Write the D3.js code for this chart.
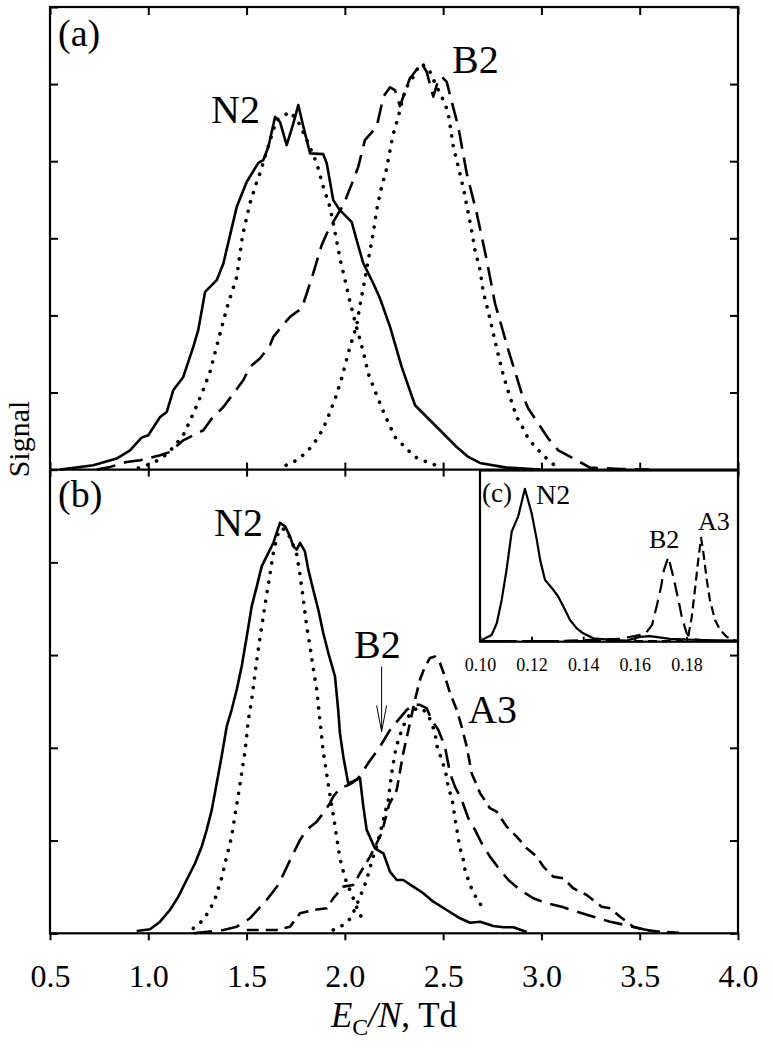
<!DOCTYPE html>
<html><head><meta charset="utf-8">
<script src="https://cdn.jsdelivr.net/npm/d3@7"></script>
<style>
body{margin:0;background:#fff;}
svg{display:block;}
text{font-family:"Liberation Serif","Times New Roman",serif;fill:#000;}
</style></head>
<body>
<div id="chart"></div>
<script>
// ---------- DATA ----------
const xTicks = [0.5,1.0,1.5,2.0,2.5,3.0,3.5,4.0];
const xTickLabels = ["0.5","1.0","1.5","2.0","2.5","3.0","3.5","4.0"];
const yTicksA = [0,1,2,3,4,5,6];
const yTicksB = [0,1,2,3,4,5];
const insetTicks = [0.10,0.12,0.14,0.16,0.18];
const insetTickLabels = ["0.10","0.12","0.14","0.16","0.18"];

// panel (a)
const aN2 = [[0.551,0],[0.72,0.056],[0.839,0.143],[0.907,0.25],[0.966,0.415],[1.0,0.445],[1.06,0.683],[1.094,0.748],[1.127,1.029],[1.178,1.202],[1.229,1.591],[1.254,1.808],[1.289,2.305],[1.348,2.457],[1.382,2.674],[1.416,3.041],[1.45,3.408],[1.501,3.733],[1.56,3.979],[1.585,4.014],[1.611,4.187],[1.645,4.576],[1.67,4.511],[1.704,4.209],[1.738,4.491],[1.763,4.728],[1.789,4.447],[1.823,4.101],[1.89,4.092],[1.908,3.971],[1.941,3.495],[1.975,3.365],[2.035,3.209],[2.06,2.976],[2.094,2.674],[2.145,2.414],[2.179,2.219],[2.23,1.851],[2.289,1.332],[2.357,0.835],[2.484,0.51],[2.569,0.293],[2.628,0.164],[2.687,0.086],[2.823,0.026],[2.993,0]];
const aN2fit = [[0.95,0.02],[0.992,0.056],[1.034,0.099],[1.094,0.199],[1.136,0.315],[1.178,0.445],[1.229,0.727],[1.272,0.986],[1.314,1.267],[1.356,1.678],[1.399,2.09],[1.45,2.5],[1.48,3.041],[1.517,3.452],[1.552,3.733],[1.568,3.842],[1.636,4.404],[1.653,4.533],[1.721,4.641],[1.763,4.511],[1.814,4.231],[1.857,3.971],[1.89,3.668],[1.924,3.408],[1.95,3.08],[1.975,2.738],[2.001,2.457],[2.026,2.175],[2.052,1.916],[2.094,1.526],[2.119,1.246],[2.162,0.964],[2.204,0.705],[2.255,0.423],[2.306,0.293],[2.357,0.164],[2.416,0.099],[2.47,0.05]];
const aB2 = [[0.738,0],[0.805,0.034],[0.89,0.099],[0.958,0.121],[1.06,0.186],[1.11,0.228],[1.178,0.38],[1.229,0.445],[1.28,0.51],[1.323,0.662],[1.382,0.812],[1.433,0.986],[1.483,1.159],[1.517,1.332],[1.568,1.441],[1.619,1.613],[1.636,1.721],[1.67,1.83],[1.721,1.981],[1.78,2.09],[1.806,2.284],[1.839,2.544],[1.882,2.911],[1.908,3.063],[1.941,3.213],[1.992,3.43],[2.043,3.755],[2.068,3.927],[2.102,4.274],[2.162,4.447],[2.196,4.836],[2.23,4.958],[2.255,4.923],[2.28,4.715],[2.297,4.836],[2.331,5.075],[2.357,5.16],[2.391,5.269],[2.416,5.16],[2.45,4.836],[2.475,5.053],[2.493,5.095],[2.518,5.03],[2.535,4.858],[2.577,4.447],[2.62,3.842],[2.671,3.323],[2.722,2.716],[2.764,2.154],[2.832,1.548],[2.9,0.986],[2.933,0.792],[3.035,0.402],[3.086,0.25],[3.179,0.121],[3.247,0.026],[3.4,0.008],[3.55,0]];
const aB2fit = [[1.701,0.056],[1.755,0.121],[1.806,0.228],[1.848,0.358],[1.882,0.497],[1.908,0.64],[1.95,0.912],[1.984,1.189],[2.026,1.591],[2.06,1.873],[2.077,2.132],[2.097,2.405],[2.116,2.674],[2.145,3.084],[2.162,3.365],[2.179,3.586],[2.213,3.91],[2.23,4.144],[2.246,4.352],[2.272,4.576],[2.297,4.836],[2.315,4.966],[2.34,5.053],[2.365,5.182],[2.391,5.269],[2.433,5.16],[2.459,5.01],[2.484,4.88],[2.509,4.75],[2.526,4.62],[2.543,4.339],[2.552,4.187],[2.577,3.927],[2.603,3.647],[2.623,3.387],[2.645,3.106],[2.662,2.846],[2.688,2.587],[2.704,2.305],[2.73,2.045],[2.755,1.765],[2.781,1.483],[2.806,1.224],[2.84,0.942],[2.874,0.683],[2.908,0.532],[2.933,0.402],[2.976,0.273],[3.027,0.143],[3.074,0.04]];

// panel (b)
const bN2 = [[0.941,0.025],[1.009,0.043],[1.06,0.125],[1.11,0.251],[1.153,0.395],[1.195,0.575],[1.238,0.755],[1.272,0.935],[1.297,1.115],[1.323,1.331],[1.348,1.619],[1.373,1.906],[1.399,2.23],[1.424,2.41],[1.45,2.626],[1.475,2.877],[1.501,3.201],[1.526,3.525],[1.552,3.741],[1.577,3.956],[1.602,4.064],[1.636,4.209],[1.67,4.425],[1.696,4.388],[1.721,4.28],[1.738,4.172],[1.755,4.137],[1.772,4.209],[1.797,4.118],[1.814,3.921],[1.839,3.705],[1.865,3.489],[1.89,3.238],[1.916,3.022],[1.95,2.769],[1.958,2.59],[1.966,2.41],[1.975,2.158],[1.992,1.906],[2.017,1.619],[2.06,1.654],[2.077,1.673],[2.094,1.366],[2.111,1.115],[2.153,0.917],[2.196,0.863],[2.23,0.662],[2.264,0.575],[2.297,0.575],[2.348,0.503],[2.399,0.432],[2.45,0.341],[2.518,0.251],[2.586,0.162],[2.637,0.114],[2.688,0.125],[2.755,0.079],[2.806,0.065],[2.857,0.065],[2.925,0.014]];
const bN2fit = [[1.229,0.054],[1.28,0.144],[1.314,0.259],[1.339,0.367],[1.373,0.594],[1.399,0.827],[1.424,1.043],[1.441,1.277],[1.458,1.493],[1.475,1.727],[1.492,1.96],[1.509,2.302],[1.526,2.518],[1.552,2.949],[1.568,3.184],[1.585,3.417],[1.602,3.651],[1.619,3.867],[1.636,4.101],[1.661,4.317],[1.679,4.371],[1.704,4.334],[1.73,4.226],[1.755,4.083],[1.772,3.867],[1.789,3.597],[1.806,3.309],[1.823,3.093],[1.839,2.86],[1.857,2.626],[1.874,2.284],[1.89,1.96],[1.907,1.727],[1.924,1.493],[1.941,1.277],[1.958,1.043],[1.975,0.809],[2.001,0.594],[2.043,0.378],[2.068,0.233],[2.094,0.144]];
const bB2 = [[1.229,0],[1.382,0.036],[1.45,0.071],[1.517,0.162],[1.602,0.359],[1.661,0.521],[1.73,0.827],[1.772,1.007],[1.806,1.115],[1.857,1.204],[1.89,1.295],[1.924,1.403],[1.941,1.474],[1.975,1.565],[2.009,1.59],[2.035,1.619],[2.068,1.673],[2.119,1.835],[2.179,2.014],[2.23,2.194],[2.272,2.302],[2.315,2.41],[2.348,2.464],[2.382,2.464],[2.416,2.428],[2.441,2.302],[2.475,2.194],[2.509,2.014],[2.535,1.727],[2.56,1.582],[2.594,1.439],[2.628,1.241],[2.662,1.115],[2.696,0.971],[2.738,0.827],[2.789,0.683],[2.832,0.575],[2.891,0.467],[2.959,0.378],[3.027,0.324],[3.103,0.287],[3.179,0.233],[3.264,0.179],[3.349,0.125],[3.425,0.09],[3.518,0.043],[3.586,0.017]];
const bB2fit = [[1.941,0.036],[1.992,0.09],[2.031,0.165],[2.06,0.306],[2.085,0.435],[2.111,0.575],[2.136,0.77],[2.162,0.942],[2.179,1.079],[2.196,1.223],[2.221,1.439],[2.238,1.727],[2.255,1.943],[2.272,2.086],[2.297,2.23],[2.315,2.32],[2.34,2.374],[2.365,2.428],[2.399,2.41],[2.424,2.356],[2.441,2.266],[2.459,2.158],[2.467,2.032],[2.484,1.924],[2.501,1.816],[2.518,1.69],[2.526,1.565],[2.543,1.474],[2.552,1.366],[2.56,1.241],[2.569,1.133],[2.577,1.025],[2.586,0.917],[2.603,0.791],[2.611,0.683],[2.628,0.575],[2.654,0.432],[2.688,0.324],[2.704,0.233]];
const bA3 = [[1.501,0.036],[1.653,0.036],[1.721,0.071],[1.772,0.216],[1.839,0.251],[1.908,0.27],[1.941,0.378],[1.992,0.503],[2.043,0.521],[2.077,0.648],[2.128,0.827],[2.162,0.971],[2.187,1.079],[2.225,1.387],[2.264,1.547],[2.297,1.943],[2.331,2.266],[2.357,2.518],[2.382,2.734],[2.408,2.877],[2.433,2.968],[2.459,2.985],[2.484,2.914],[2.509,2.769],[2.535,2.59],[2.569,2.41],[2.594,2.23],[2.62,2.014],[2.645,1.727],[2.688,1.511],[2.738,1.349],[2.772,1.312],[2.823,1.15],[2.874,1.043],[2.925,0.917],[2.976,0.827],[3.01,0.719],[3.06,0.611],[3.111,0.594],[3.162,0.486],[3.23,0.413],[3.306,0.287],[3.349,0.27],[3.4,0.179],[3.467,0.071],[3.535,0.036],[3.603,0.017],[3.705,0.006]];
const arrowB2 = {x:2.187, from:2.877, to:2.176};

// inset (c)
const cN2 = [[0.1007,0.01],[0.1045,0.039],[0.1065,0.108],[0.1084,0.244],[0.1103,0.42],[0.1123,0.644],[0.1148,0.732],[0.1174,0.893],[0.12,0.752],[0.122,0.596],[0.1233,0.478],[0.1252,0.361],[0.1284,0.303],[0.1303,0.264],[0.1323,0.205],[0.1349,0.127],[0.1375,0.078],[0.14,0.049],[0.1439,0.02],[0.1517,0.01],[0.1569,0.007],[0.162,0.028],[0.1659,0.033],[0.1736,0.016],[0.1853,0.01],[0.2,0.007]];
const cB2 = [[0.1,0.004],[0.131,0.004],[0.154,0.016],[0.164,0.045],[0.1667,0.098],[0.1686,0.215],[0.1702,0.322],[0.1713,0.42],[0.173,0.494],[0.1749,0.381],[0.1769,0.244],[0.1782,0.146],[0.1801,0.049],[0.1822,0.016],[0.1891,0.004],[0.2,0.004]];
const cA3 = [[0.1,0.003],[0.1775,0.004],[0.1807,0.029],[0.1821,0.146],[0.1833,0.303],[0.1846,0.479],[0.1857,0.606],[0.1866,0.518],[0.1879,0.361],[0.1891,0.244],[0.1911,0.127],[0.193,0.069],[0.1956,0.029],[0.1982,0.01],[0.2,0.004]];

// ---------- CHART ----------
const W = 773, H = 1050;
const svg = d3.select("#chart").append("svg").attr("width", W).attr("height", H);

const x = d3.scaleLinear().domain([0.5, 4.0]).range([50, 738]);
const ya = d3.scaleLinear().domain([0, 6]).range([469.6, 7]);
const yb = d3.scaleLinear().domain([0, 5]).range([933.3, 469.6]);
const xi = d3.scaleLinear().domain([0.10, 0.20]).range([480, 738]);
const yi = d3.scaleLinear().domain([0, 1]).range([641.7, 470.5]);

const styles = {
  solid: {w: 2.6, dash: null, cap: "butt"},
  dot:   {w: 3.6, dash: "0.1,9.6", cap: "round"},
  long:  {w: 2.6, dash: "19,9", cap: "butt"},
  short: {w: 2.6, dash: "12,7", cap: "butt"}
};

function drawLine(g, data, xs, ys, st, wOverride, dashOverride) {
  const line = d3.line().x(d => xs(d[0])).y(d => ys(d[1])).curve(d3.curveLinear);
  g.append("path").datum(data).attr("d", line)
    .attr("fill", "none").attr("stroke", "#000")
    .attr("stroke-width", wOverride || st.w)
    .attr("stroke-linecap", st.cap).attr("stroke-linejoin", "round")
    .attr("stroke-dasharray", dashOverride || st.dash);
}

const gA = svg.append("g");
drawLine(gA, aN2, x, ya, styles.solid);
drawLine(gA, aN2fit, x, ya, styles.dot);
drawLine(gA, aB2, x, ya, styles.long);
drawLine(gA, aB2fit, x, ya, styles.dot);

const gB = svg.append("g");
drawLine(gB, bN2, x, yb, styles.solid);
drawLine(gB, bN2fit, x, yb, styles.dot);
drawLine(gB, bB2, x, yb, styles.long);
drawLine(gB, bB2fit, x, yb, styles.dot);
drawLine(gB, bA3, x, yb, styles.short);

// arrow
const ax = x(arrowB2.x), ay0 = yb(arrowB2.from), ay1 = yb(arrowB2.to);
gB.append("line").attr("x1", ax).attr("x2", ax).attr("y1", ay0).attr("y2", ay1)
  .attr("stroke", "#000").attr("stroke-width", 1);
gB.append("path").attr("d", `M${ax-5},${ay1-26} L${ax},${ay1} L${ax+5},${ay1-26}`)
  .attr("fill", "none").attr("stroke", "#000").attr("stroke-width", 1);

// axes helpers
function styleAxis(g) {
  g.select(".domain").remove();
  g.selectAll(".tick line").attr("stroke", "#000").attr("stroke-width", 2);
}
const noLab = () => "";

// top of (a): ticks inward
svg.append("g").attr("transform", `translate(0,${ya(6)})`)
  .call(d3.axisBottom(x).tickValues(xTicks).tickSize(8).tickFormat(noLab)).call(styleAxis);
// middle: ticks both sides
svg.append("g").attr("transform", `translate(0,${ya(0)})`)
  .call(d3.axisTop(x).tickValues(xTicks).tickSize(7).tickFormat(noLab)).call(styleAxis);
svg.append("g").attr("transform", `translate(0,${ya(0)})`)
  .call(d3.axisBottom(x).tickValues(xTicks).tickSize(7).tickFormat(noLab)).call(styleAxis);
// y ticks (a)
svg.append("g").attr("transform", `translate(${x(0.5)},0)`)
  .call(d3.axisRight(ya).tickValues(yTicksA).tickSize(8).tickFormat(noLab)).call(styleAxis);
svg.append("g").attr("transform", `translate(${x(4.0)},0)`)
  .call(d3.axisLeft(ya).tickValues(yTicksA).tickSize(8).tickFormat(noLab)).call(styleAxis);
// y ticks (b)
svg.append("g").attr("transform", `translate(${x(0.5)},0)`)
  .call(d3.axisRight(yb).tickValues(yTicksB).tickSize(8).tickFormat(noLab)).call(styleAxis);
svg.append("g").attr("transform", `translate(${x(4.0)},0)`)
  .call(d3.axisLeft(yb).tickValues(yTicksB).tickSize(8).tickFormat(noLab)).call(styleAxis);
// bottom axis with labels
const bottom = svg.append("g").attr("transform", `translate(0,${yb(0)})`)
  .call(d3.axisBottom(x).tickValues(xTicks).tickSize(7).tickPadding(24)
    .tickFormat((d, i) => xTickLabels[i])).call(styleAxis);
bottom.selectAll(".tick text").attr("font-family", "Liberation Serif").attr("font-size", 32).attr("fill", "#000");

// frames
svg.append("rect").attr("x", x(0.5)).attr("y", ya(6)).attr("width", x(4) - x(0.5)).attr("height", yb(0) - ya(6))
  .attr("fill", "none").attr("stroke", "#000").attr("stroke-width", 2.2);
svg.append("line").attr("x1", x(0.5)).attr("x2", x(4)).attr("y1", ya(0)).attr("y2", ya(0))
  .attr("stroke", "#000").attr("stroke-width", 2.2);

// ---------- INSET ----------
const gC = svg.append("g");
gC.append("rect").attr("x", xi(0.10)).attr("y", yi(1)).attr("width", xi(0.20) - xi(0.10)).attr("height", yi(0) - yi(1))
  .attr("fill", "#fff").attr("stroke", "none");
drawLine(gC, cN2, xi, yi, styles.solid, 2.2);
drawLine(gC, cB2, xi, yi, styles.long, 2.2, "14,7");
drawLine(gC, cA3, xi, yi, styles.short, 2.2, "9,5");
gC.append("g").attr("transform", `translate(0,${yi(0)})`)
  .call(d3.axisTop(xi).tickValues(insetTicks).tickSize(5).tickFormat(noLab)).call(styleAxis);
const insetLab = gC.append("g").attr("transform", `translate(0,${yi(0)})`)
  .call(d3.axisBottom(xi).tickValues(insetTicks).tickSize(0).tickPadding(17)
    .tickFormat((d, i) => insetTickLabels[i])).call(styleAxis);
insetLab.selectAll(".tick text").attr("font-family", "Liberation Serif").attr("font-size", 18).attr("fill", "#000");
gC.append("rect").attr("x", xi(0.10)).attr("y", yi(1)).attr("width", xi(0.20) - xi(0.10)).attr("height", yi(0) - yi(1))
  .attr("fill", "none").attr("stroke", "#000").attr("stroke-width", 2.2);

// ---------- TEXT ----------
function label(t, px, py, size) {
  svg.append("text").attr("x", px).attr("y", py).attr("font-size", size).text(t);
}
label("(a)", 58, 46, 38);
label("N2", 211, 123, 40);
label("B2", 452, 73, 40);
label("(b)", 58, 507, 38);
label("N2", 214, 536, 40);
label("B2", 354, 658, 40);
label("A3", 468, 723, 40);
label("(c)", 482, 502, 27);
label("N2", 536, 504, 28);
label("B2", 649, 548, 26);
label("A3", 698, 530, 26);

svg.append("text").attr("transform", "translate(29,439) rotate(-90)")
  .attr("text-anchor", "middle").attr("font-size", 30).text("Signal");

const title = svg.append("text").attr("x", 394).attr("y", 1027).attr("text-anchor", "middle").attr("font-size", 35);
title.append("tspan").attr("font-style", "italic").text("E");
title.append("tspan").attr("font-size", 24).attr("dy", 8).text("C");
title.append("tspan").attr("dy", -8).attr("font-style", "italic").text("/N");
title.append("tspan").text(", Td");
</script>
</body></html>
